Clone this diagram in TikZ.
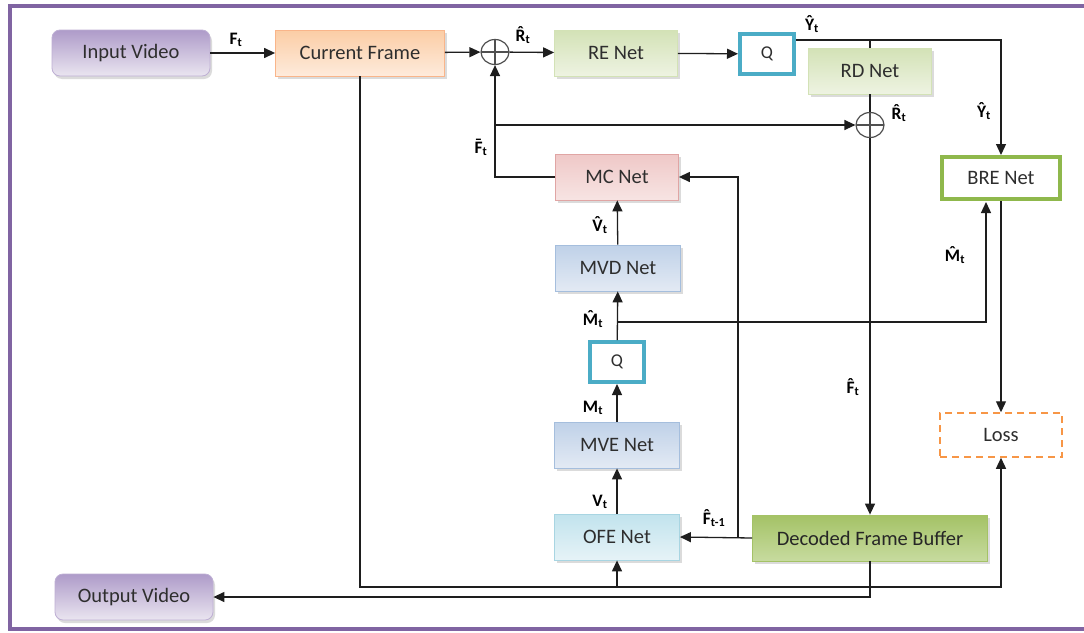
\documentclass[tikz,border=0pt]{standalone}
\usepackage{fontspec}
\setmainfont{Carlito}
\usetikzlibrary{arrows.meta,shadows,shapes.geometric}

% accented capitals built from spacing accent glyphs
\newcommand{\hatcap}[1]{\ooalign{#1\cr\hidewidth\raisebox{0.14em}{\char"02C6}\hidewidth\cr}}
\newcommand{\barcap}[1]{\ooalign{#1\cr\hidewidth\raisebox{0.14em}{\char"00AF}\hidewidth\cr}}

\definecolor{frameP}{HTML}{8064A2}
\definecolor{txt}{HTML}{2E2E2E}
\definecolor{vidTop}{HTML}{AE9BC9}
\definecolor{vidBot}{HTML}{EAE5F0}
\definecolor{curTop}{HTML}{FBCDA5}
\definecolor{curBot}{HTML}{FEEBDC}
\definecolor{curLine}{HTML}{F9B58A}
\definecolor{grTop}{HTML}{D3E2B6}
\definecolor{grBot}{HTML}{EEF3E2}
\definecolor{qBlue}{HTML}{4BACC6}
\definecolor{mcTop}{HTML}{EFC8C7}
\definecolor{mcBot}{HTML}{F7E4E3}
\definecolor{mcLine}{HTML}{E0A5A4}
\definecolor{mvTop}{HTML}{BFD1E8}
\definecolor{mvBot}{HTML}{E3EAF4}
\definecolor{mvLine}{HTML}{A5BEDD}
\definecolor{ofTop}{HTML}{C1E3ED}
\definecolor{ofBot}{HTML}{E6F3F7}
\definecolor{ofLine}{HTML}{A8D5E2}
\definecolor{dfTop}{HTML}{A4C266}
\definecolor{dfBot}{HTML}{C7DB9F}
\definecolor{brGreen}{HTML}{8FB84C}
\definecolor{lossO}{HTML}{F79646}
\definecolor{wire}{HTML}{1E1E1E}
\definecolor{sumGray}{HTML}{505050}

\tikzset{
  unit/.style={rectangle, inner sep=0pt, text=txt,
    font=\fontsize{20.5}{24}\selectfont,
    drop shadow={shadow xshift=2pt, shadow yshift=-3pt, fill=black!40, opacity=.35}},
  video/.style={unit, rounded corners=8pt, minimum width=158pt, minimum height=46pt,
    top color=vidTop, bottom color=vidBot, draw=vidTop!80!white, line width=0.8pt},
  netbox/.style={unit, minimum width=123pt, minimum height=46pt},
  qbox/.style={rectangle, inner sep=0pt, outer sep=2pt, draw=qBlue, line width=4pt,
    fill=white, text=txt, font=\fontsize{18}{21}\selectfont,
    minimum width=54pt, minimum height=40pt},
  summer/.style={ellipse, draw=sumGray, line width=1.2pt, minimum width=28pt,
    minimum height=25pt, inner sep=0pt,
    path picture={\draw[sumGray, line width=1.2pt]
      (path picture bounding box.north) -- (path picture bounding box.south)
      (path picture bounding box.west) -- (path picture bounding box.east);}},
  wireline/.style={draw=wire, line width=1.3pt},
  arr/.style={wireline, -{Triangle[length=11pt, width=10pt]}},
  lab/.style={inner sep=0pt, text=black, font=\fontsize{17.5}{20}\selectfont\bfseries},
}

\begin{document}
\begin{tikzpicture}[x=1pt, y=-1pt]
\useasboundingbox (0,0) rectangle (1084,632);
\fill[white] (0,0) rectangle (1084,632);
% purple outer frame
\draw[frameP, line width=4pt] (10,6) rectangle (1096,629);

% blocks
\node[video] (inv) at (131,53) {Input Video};
\node[video] (outv) at (134,597) {Output Video};
\node[netbox, minimum width=169pt, top color=curTop, bottom color=curBot,
      draw=curLine, line width=0.8pt] (cur) at (360,53) {Current Frame};
\node[summer] (s1) at (495,52) {};
\node[netbox, top color=grTop, bottom color=grBot, draw=grTop, line width=0.8pt]
      (re) at (616,53) {RE Net};
\node[qbox] (q1) at (767,54) {Q};
\node[netbox, top color=grTop, bottom color=grBot, draw=grTop, line width=0.8pt]
      (rd) at (870,71) {RD Net};
\node[summer] (s2) at (870,125) {};
\node[rectangle, inner sep=0pt, outer sep=2pt, draw=brGreen, line width=4pt, fill=white,
      text=txt, font=\fontsize{20.5}{24}\selectfont, minimum width=118pt, minimum height=42pt]
      (bre) at (1001,178) {BRE Net};
\node[netbox, top color=mcTop, bottom color=mcBot, draw=mcLine, line width=0.8pt]
      (mc) at (617,177) {MC Net};
\node[netbox, minimum width=125pt, top color=mvTop, bottom color=mvBot, draw=mvLine, line width=0.8pt]
      (mvd) at (618,268) {MVD Net};
\node[qbox] (q2) at (617,362) {Q};
\node[netbox, minimum width=125pt, top color=mvTop, bottom color=mvBot, draw=mvLine, line width=0.8pt]
      (mve) at (617,445) {MVE Net};
\node[netbox, minimum width=125pt, top color=ofTop, bottom color=ofBot, draw=ofLine, line width=0.8pt]
      (ofe) at (617,537) {OFE Net};
\node[netbox, minimum width=235pt, top color=dfTop, bottom color=dfBot, draw=dfTop, line width=0.8pt,
      text=black!85] (dfb) at (870,538) {Decoded Frame Buffer};
\node[rectangle, inner sep=0pt, draw=lossO, dashed, dash pattern=on 7pt off 5pt,
      line width=1.5pt, fill=white, text=txt, font=\fontsize{20.5}{24}\selectfont,
      minimum width=122pt, minimum height=44pt] (loss) at (1001,435) {Loss};

% junctions
\coordinate (jF) at (495,125);
\coordinate (jY) at (870,40);
\coordinate (jB) at (738,537);
\coordinate (jM) at (617,322);
\coordinate (jC) at (617,587);
\coordinate (bIn) at (986,202);

% top row
\draw[arr] (inv) -- (cur);
\draw[arr] (cur) -- (s1);
\draw[arr] (s1) -- (re);
\draw[arr] (re) -- (q1);
\draw[arr] (q1.east |- jY) -| (bre.north);
\draw[wireline] (jY) -- (rd.north);
\draw[wireline] (rd) -- (s2);
\draw[arr] (jF) -- (s2.west);
\draw[arr] (mc.west) -| (s1.south);
\draw[arr] (s2) -- (dfb);

% motion branch
\draw[arr] (dfb.west) -- (ofe.east);
\draw[arr] (jB) |- (mc.east);
\draw[arr] (ofe) -- (mve);
\draw[arr] (mve) -- (q2);
\draw[arr] (q2) -- (mvd);
\draw[arr] (mvd) -- (mc);
\draw[arr] (jM) -| (bIn);
\draw[arr] (bre.south) -- (loss.north);

% bottom loops
\draw[arr] (cur.south) |- (jC) -| (loss.south);
\draw[arr] (jC) -- (ofe.south);
\draw[arr] (dfb.south) |- (outv.east);

% signal labels
\node[lab] (lF) at (236,40) {F\textsubscript{t}};
\node[lab] (lR1) at (523,37) {\hatcap{R}\textsubscript{t}};
\node[lab] (lY1) at (812,26) {\hatcap{Y}\textsubscript{t}};
\node[lab] (lY2) at (984,113) {\hatcap{Y}\textsubscript{t}};
\node[lab] (lR2) at (899,115) {\hatcap{R}\textsubscript{t}};
\node[lab] (lFb) at (481,149) {\barcap{F}\textsubscript{t}};
\node[lab] (lV1) at (600,227) {\hatcap{V}\textsubscript{t}};
\node[lab] (lM1) at (593,321) {\hatcap{M}\textsubscript{t}};
\node[lab] (lM2) at (955,257) {\hatcap{M}\textsubscript{t}};
\node[lab] (lM0) at (593,408) {M\textsubscript{t}};
\node[lab] (lV0) at (600,502) {V\textsubscript{t}};
\node[lab] (lFh) at (853,389) {\hatcap{F}\textsubscript{t}};
\node[lab] (lFp) at (714,520) {\hatcap{F}\textsubscript{t-1}};
\end{tikzpicture}
\end{document}
